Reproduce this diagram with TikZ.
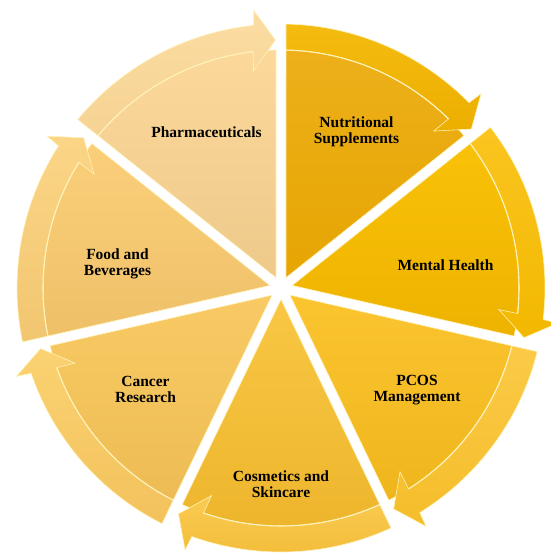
\documentclass[tikz,border=0pt]{standalone}
\usepackage{fontspec}
\setmainfont{Liberation Serif}
\definecolor{hl}{HTML}{FFF1B8}
\definecolor{pharT}{HTML}{FCD99B}\definecolor{pharB}{HTML}{EDC98A}
\definecolor{pharAT}{HTML}{FCDCA2}\definecolor{pharAB}{HTML}{F5D394}
\definecolor{nutT}{HTML}{EDB01A}\definecolor{nutB}{HTML}{E6A502}
\definecolor{nutAT}{HTML}{F4BB10}\definecolor{nutAB}{HTML}{ECAF00}
\definecolor{menT}{HTML}{F9C108}\definecolor{menB}{HTML}{EEB300}
\definecolor{menAT}{HTML}{FBC520}\definecolor{menAB}{HTML}{F2B800}
\definecolor{pcoT}{HTML}{FBC530}\definecolor{pcoB}{HTML}{EFB51C}
\definecolor{pcoAT}{HTML}{FCCA48}\definecolor{pcoAB}{HTML}{F4BD2A}
\definecolor{cosT}{HTML}{F9C744}\definecolor{cosB}{HTML}{EDB52C}
\definecolor{cosAT}{HTML}{FACB52}\definecolor{cosAB}{HTML}{F2BC38}
\definecolor{canT}{HTML}{F9CA64}\definecolor{canB}{HTML}{EDBC54}
\definecolor{canAT}{HTML}{FBD272}\definecolor{canAB}{HTML}{F2C25C}
\definecolor{fooT}{HTML}{FBCF7A}\definecolor{fooB}{HTML}{EEC068}
\definecolor{fooAT}{HTML}{FBD587}\definecolor{fooAB}{HTML}{F2C670}
\begin{document}
\begin{tikzpicture}[x=1pt,y=1pt,
  lbl/.style={font=\bfseries\fontsize{15.5}{16}\selectfont, align=center, text=black, inner sep=0pt},
  segedge/.style={draw=hl, line width=0.6pt}]
\useasboundingbox (0,0) rectangle (550,554);
\begin{scope}[shift={(281,266)}]
\foreach \A/\ct/\cb/\at/\ab in {
  141.4286/pharT/pharB/pharAT/pharAB,
  90/nutT/nutB/nutAT/nutAB,
  38.5714/menT/menB/menAT/menAB,
  -12.8571/pcoT/pcoB/pcoAT/pcoAB,
  -64.2857/cosT/cosB/cosAT/cosAB,
  -115.7143/canT/canB/canAT/canAB,
  -167.1429/fooT/fooB/fooAT/fooAB}{
  \pgfmathsetmacro\B{\A-51.4286}
  \pgfmathsetmacro\M{\A-25.7143}
  \pgfmathsetmacro\Asi{\A-1.204}
  \pgfmathsetmacro\Aso{\A-1.085}
  \pgfmathsetmacro\Bsi{\B+1.204}
  \pgfmathsetmacro\Bo{\B+6.0}
  \pgfmathsetmacro\Bq{\B+5.6}
  \pgfmathsetmacro\Bt{\B+1.3}
  \pgfmathsetmacro\Bi{\B+7.2}
  \pgfmathsetmacro\Bm{\B+6.7}
  % body
  \path[top color=\ct, bottom color=\cb, segedge]
    (\M:11.5) -- (\Asi:238) arc[start angle=\Asi, end angle=\Bsi, radius=238] -- cycle;
  % arrow band
  \path[top color=\at, bottom color=\ab, segedge]
    (\Asi:238) -- (\Aso:264) arc[start angle=\Aso, end angle=\Bo, radius=264]
    -- (\Bq:279) -- (\Bt:248) -- (\Bi:219) -- (\Bm:238)
    arc[start angle=\Bm, end angle=\Asi, radius=238] -- cycle;
  \draw[hl, line width=1.1pt] (\Asi:238) arc[start angle=\Asi, end angle=\Bm, radius=238];
}
\end{scope}
\node[lbl] (pharma) at (206.5,422) {Pharmaceuticals};
\node[lbl] (nutri) at (356.5,422.5) {Nutritional\\Supplements};
\node[lbl] (mental) at (445.5,289) {Mental Health};
\node[lbl] (pcos) at (417,164) {PCOS\\Management};
\node[lbl] (cosm) at (281,70) {Cosmetics and\\Skincare};
\node[lbl] (cancer) at (145.5,164.5) {Cancer\\Research};
\node[lbl] (food) at (117.5,290) {Food and\\Beverages};
\end{tikzpicture}
\end{document}
